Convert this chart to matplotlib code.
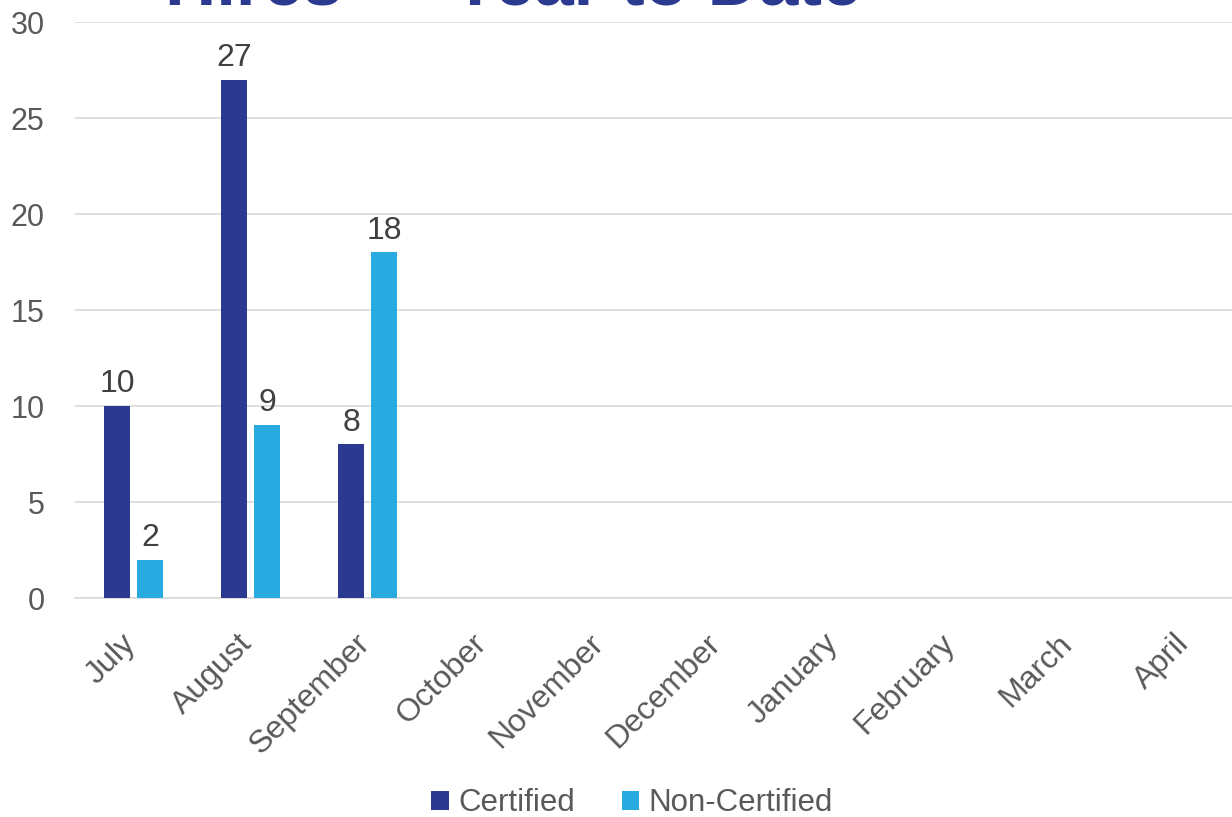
import numpy as np
import matplotlib
matplotlib.use('Agg')
import matplotlib.pyplot as plt
import matplotlib.transforms as mtransforms

months = ['July', 'August', 'September', 'October', 'November', 'December',
          'January', 'February', 'March', 'April']
certified = [10, 27, 8]
non_certified = [2, 9, 18]

dark = '#2B3990'
light = '#29ABE2'
grey = '#595959'

plt.rcParams['font.family'] = ['Liberation Sans', 'DejaVu Sans']

fig = plt.figure(figsize=(12.32, 8.17), dpi=100)
# plot area runs a little past the right edge of the figure, like the original
ax = fig.add_axes([0.061, 0.268, 0.9497, 0.705])

x = np.arange(len(months))
w = 0.222
b1 = ax.bar(x[:len(certified)] - 0.141, certified, w, color=dark, label='Certified', zorder=3)
b2 = ax.bar(x[:len(non_certified)] + 0.141, non_certified, w, color=light, label='Non-Certified', zorder=3)

for bars in (b1, b2):
    for r in bars:
        ax.annotate(str(int(r.get_height())), (r.get_x() + r.get_width() / 2, r.get_height()),
                    xytext=(0, 5), textcoords='offset points', ha='center', va='bottom',
                    fontsize=23, color='#404040')

ax.set_xlim(-0.5, len(months) - 0.5)
ax.set_ylim(0, 30)
ax.set_yticks(range(0, 31, 5))
ax.yaxis.grid(True, color='#D9D9D9', linewidth=1.2, zorder=0)
ax.set_axisbelow(True)
for s in ['top', 'right', 'left']:
    ax.spines[s].set_visible(False)
ax.spines['bottom'].set_color('#D9D9D9')
ax.spines['bottom'].set_linewidth(1.2)
ax.tick_params(length=0, labelsize=22, colors=grey)
ax.tick_params(axis='x', labelsize=23, pad=14)
ax.tick_params(axis='y', pad=22)
ax.set_xticks(x)
ax.set_xticklabels(months, rotation=45, ha='right', rotation_mode='anchor')
shift = mtransforms.ScaledTranslation(-0.13, -0.11, fig.dpi_scale_trans)
for lbl in ax.get_xticklabels():
    lbl.set_transform(lbl.get_transform() + shift)

fig.text(0.134, 0.995, 'Hires \u2014 Year to Date', fontsize=51, fontweight='bold',
         color=dark, ha='left', va='baseline')

fig.legend(loc='lower center', bbox_to_anchor=(0.513, -0.036), ncol=2, frameon=False,
           fontsize=22.5, labelcolor=grey, handlelength=0.55, handleheight=0.55,
           handletextpad=0.3, columnspacing=1.5)

fig.savefig('out.png', dpi=100)
